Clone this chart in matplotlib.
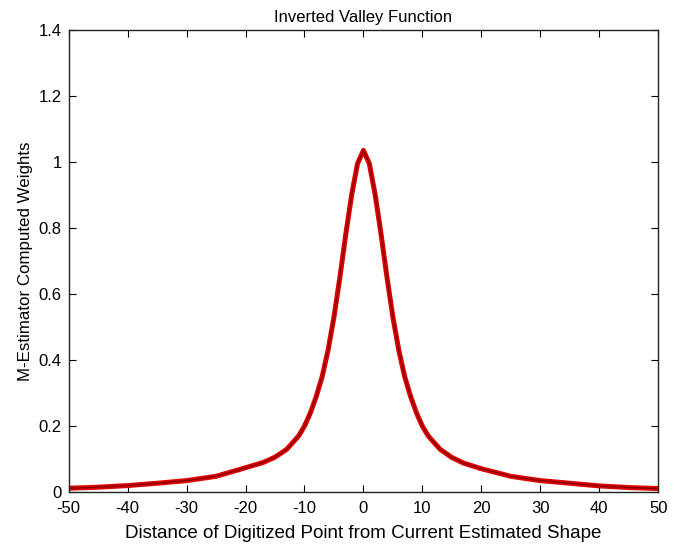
import matplotlib
matplotlib.use("Agg")
import matplotlib.pyplot as plt
from matplotlib.ticker import FormatStrFormatter

plt.rcParams['font.family'] = ['Liberation Sans', 'DejaVu Sans']
plt.rcParams['axes.unicode_minus'] = False

# distances (symmetric around 0)
distance = [-50, -45, -40, -35, -30, -25, -20, -17, -15, -13, -11, -10, -9, -8, -7,
            -6, -5, -4, -3, -2, -1, 0, 1, 2, 3, 4, 5, 6, 7, 8, 9, 10, 11, 13, 15,
            17, 20, 25, 30, 35, 40, 45, 50]
weights = [0.012, 0.015, 0.020, 0.027, 0.035, 0.048, 0.074, 0.090, 0.106, 0.13,
           0.17, 0.20, 0.24, 0.29, 0.35, 0.43, 0.53, 0.65, 0.78, 0.90, 0.995,
           1.035, 0.995, 0.90, 0.78, 0.65, 0.53, 0.43, 0.35, 0.29, 0.24, 0.20,
           0.17, 0.13, 0.105, 0.088, 0.071, 0.048, 0.035, 0.027, 0.019, 0.014, 0.011]

xticks = [-50, -40, -30, -20, -10, 0, 10, 20, 30, 40, 50]
yticks = [0, 0.2, 0.4, 0.6, 0.8, 1, 1.2, 1.4]

fig = plt.figure(figsize=(6.87, 5.53), dpi=100)
ax = fig.add_axes([0.100, 0.110, 0.858, 0.836])

# bright red stroke with a thin dark core, like the original
ax.plot(distance, weights, color='#dd0000', lw=3.6)
ax.plot(distance, weights, color='#7a0000', lw=1.0, alpha=0.85)

ax.set_xlim(-50, 50)
ax.set_ylim(0, 1.4)
ax.set_xticks(xticks)
ax.set_yticks(yticks)
ax.yaxis.set_major_formatter(FormatStrFormatter('%g'))
ax.tick_params(direction='in', top=True, right=True, length=5, width=0.8,
               labelsize=12)
ax.tick_params(axis='x', pad=6)
ax.tick_params(axis='y', pad=5)
for s in ax.spines.values():
    s.set_linewidth(1.0)
    s.set_color('#222222')

ax.set_title("Inverted Valley Function", fontsize=12, pad=6)
ax.set_xlabel("Distance of Digitized Point from Current Estimated Shape", fontsize=13.5, labelpad=7)
ax.set_ylabel("M-Estimator Computed Weights", fontsize=12.2, labelpad=4)

plt.savefig("out.png", dpi=100)
plt.close()
